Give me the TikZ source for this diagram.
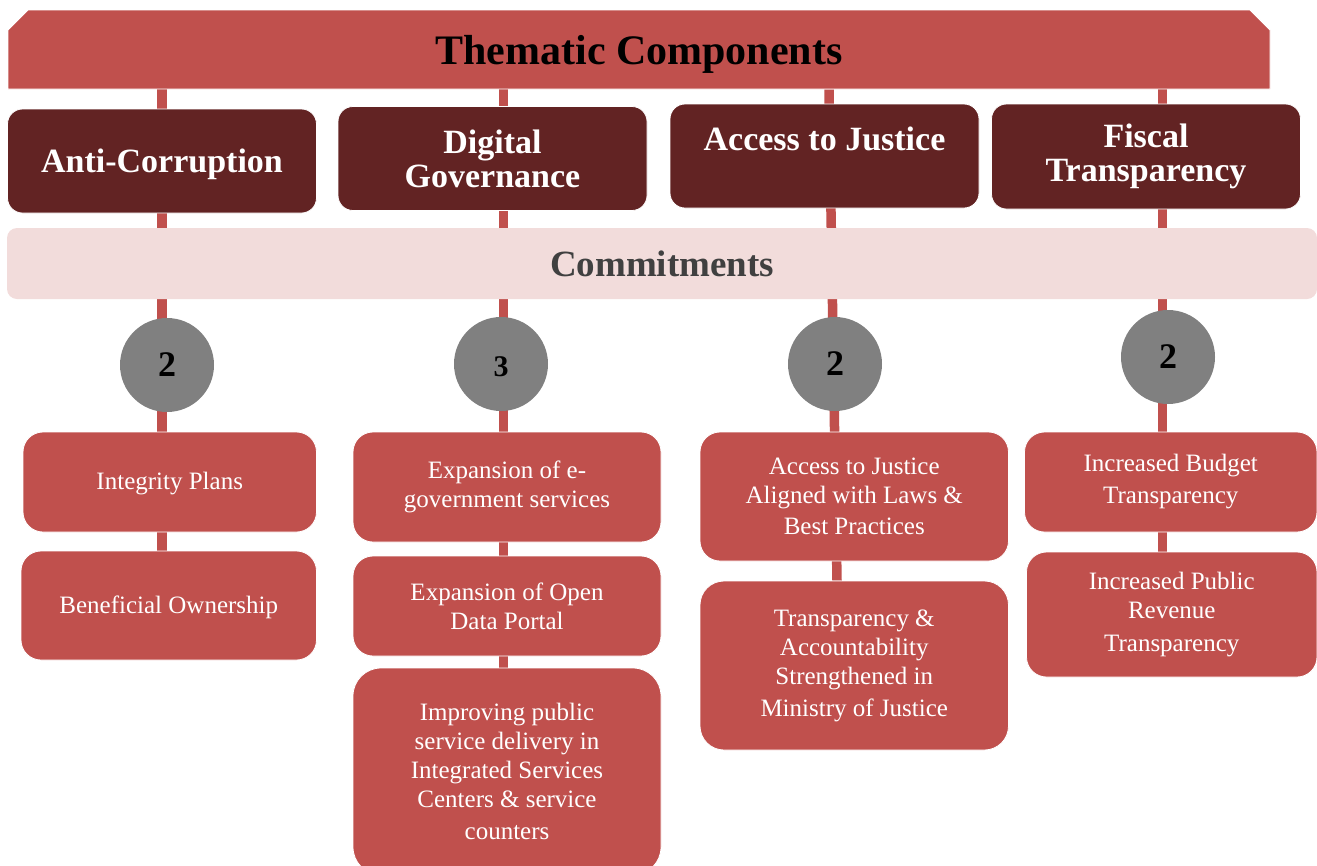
\documentclass[tikz,border=0pt]{standalone}
\usepackage{fontspec}
\setmainfont{Liberation Serif}
\usetikzlibrary{backgrounds,shapes.misc}
\definecolor{redA}{HTML}{C0504D}
\definecolor{darkA}{HTML}{622323}
\definecolor{pinkA}{HTML}{F2DCDB}
\definecolor{grayA}{HTML}{808080}
\definecolor{textA}{HTML}{404040}
\newcommand{\lowerby}[2]{\raisebox{-#1}[\height][\depth]{#2}}
\tikzset{
  headbox/.style={fill=darkA, draw=white, line width=0.8pt, rounded corners=15pt, inner sep=0pt,
    text=white, align=center, font=\fontsize{34}{34}\selectfont\bfseries},
  itembox/.style={fill=redA, draw=white, line width=0.8pt, rounded corners=20pt, inner sep=0pt,
    text=white, align=center, font=\fontsize{25}{29}\selectfont},
  countcirc/.style={circle, fill=grayA, minimum size=94pt, inner sep=0pt,
    font=\fontsize{36}{36}\selectfont\bfseries},
  conn/.style={draw=redA, line width=9.5pt}
}
\begin{document}
\begin{tikzpicture}[x=1pt,y=-1pt]
\useasboundingbox (0,0) rectangle (1317,865);
% banner
\node[chamfered rectangle, chamfered rectangle corners={north west,north east},
  chamfered rectangle xsep=7pt, chamfered rectangle ysep=13pt,
  fill=redA, draw=white, line width=0.8pt, minimum width=1262pt, minimum height=79pt, inner sep=0pt,
  font=\fontsize{42}{42}\selectfont\bfseries] (banner) at (639,49.5) {\lowerby{5pt}{Thematic Components}};
% headers
\node[headbox, minimum width=309pt, minimum height=104pt] (h1) at (162,161) {\lowerby{3pt}{Anti-Corruption}};
\node[headbox, minimum width=309pt, minimum height=104pt] (h2) at (492.5,158.5) {Digital\\Governance};
\node[headbox, minimum width=309pt, minimum height=104pt] (h3) at (824.5,156) {Access to Justice\\\mbox{}};
\node[headbox, minimum width=309pt, minimum height=105pt] (h4) at (1146,156.5) {Fiscal\\Transparency};
% commitments band
\node[fill=pinkA, rounded corners=10pt, minimum width=1310pt, minimum height=71pt, inner sep=0pt,
  text=textA, font=\fontsize{37}{37}\selectfont\bfseries] (band) at (662,263.5) {Commitments};
% circles
\node[countcirc] (c1) at (167,365) {2};
\node[countcirc, font=\fontsize{30}{30}\selectfont\bfseries] (c2) at (501,364) {\lowerby{3pt}{3}};
\node[countcirc] (c3) at (835,364) {2};
\node[countcirc] (c4) at (1168,357) {2};
% items
\node[itembox, minimum width=293.5pt, minimum height=100pt] (b11) at (169.75,482) {\lowerby{2pt}{Integrity Plans}};
\node[itembox, minimum width=295.5pt, minimum height=109pt] (b12) at (168.75,605.5) {\lowerby{2pt}{Beneficial Ownership}};
\node[itembox, minimum width=308pt, minimum height=110pt] (b21) at (507,487) {Expansion of e-\\government services};
\node[itembox, minimum width=308pt, minimum height=100pt] (b22) at (507,606) {Expansion of Open\\Data Portal};
\node[itembox, rounded corners=28pt, minimum width=308pt, minimum height=207pt] (b23) at (507,771.5) {Improving public\\service delivery in\\Integrated Services\\Centers \& service\\[3pt]counters};
\node[itembox, minimum width=308.5pt, minimum height=129pt] (b31) at (854.25,496.5) {Access to Justice\\Aligned with Laws \&\\[2pt]Best Practices};
\node[itembox, rounded corners=24pt, minimum width=308.5pt, minimum height=169pt] (b32) at (854.25,665.5) {Transparency \&\\Accountability\\Strengthened in\\[3pt]Ministry of Justice};
\node[itembox, minimum width=292.5pt, minimum height=100pt] (b41) at (1170.75,482) {Increased Budget\\[3pt]Transparency};
\node[itembox, minimum width=290.5pt, minimum height=125pt] (b42) at (1171.75,614.5) {Increased Public\\Revenue\\[4pt]Transparency};
% connector columns
\coordinate (l1) at (162,0);
\coordinate (l2) at (503.5,0);
\coordinate (l3a) at (829,0);
\coordinate (l3b) at (837,0);
\coordinate (l4) at (1162.5,0);
\begin{pgfonlayer}{background}
\draw[conn] (l1 |- banner.south) -- (l1 |- b12.north);
\draw[conn] (l2 |- banner.south) -- (l2 |- b23.north);
\draw[conn] (l3a |- banner.south) -- (l3b |- b32.north);
\draw[conn] (l4 |- banner.south) -- (l4 |- b42.north);
\end{pgfonlayer}
\end{tikzpicture}
\end{document}
